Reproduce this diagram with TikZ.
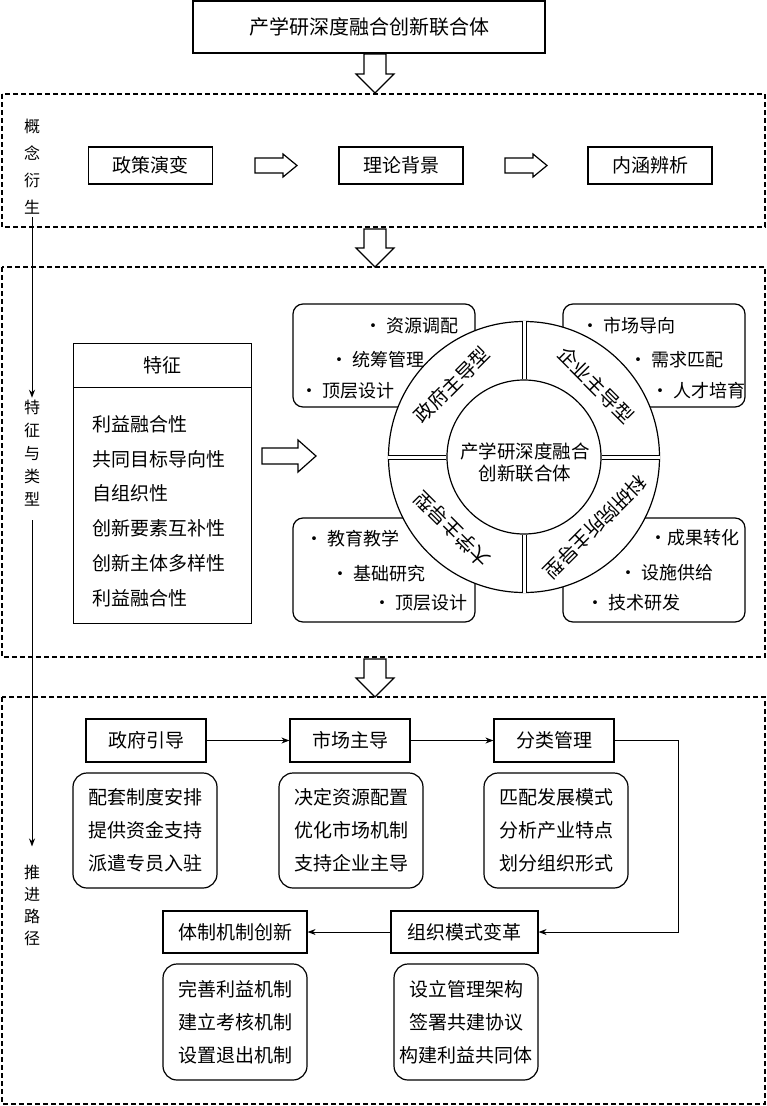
\documentclass[tikz,border=0pt]{standalone}
\usepackage{fontspec}
\setmainfont{Noto Sans CJK SC}
\usetikzlibrary{arrows.meta}
\newcommand\fsz[2]{\fontsize{#1}{#2}\selectfont}
\begin{document}
\begin{tikzpicture}[x=1pt,y=-1pt,
  sqbox/.style={draw, line width=1.2pt, inner sep=0pt, font=\fsz{19}{22}},
  rbox/.style={draw, line width=1.2pt, rounded corners=14pt, inner sep=0pt, align=center, font=\fsz{19}{33}},
  bubble/.style={draw, line width=1.2pt, rounded corners=10pt, inner sep=0pt},
  dashbox/.style={draw, dash pattern=on 5pt off 3pt, line width=1.3pt},
  hollow/.style={draw, line width=1.2pt, fill=white, line join=miter},
  flow/.style={line width=1pt, -{Stealth[length=8pt,width=6pt]}},
  vlabel/.style={align=center, inner sep=2pt},
  item/.style={anchor=west, inner sep=0pt, font=\fsz{18}{20}},
  ring/.style={inner sep=0pt, font=\fsz{19.5}{20}},
  divider/.style={double, double distance=3pt, line width=1pt}
]
\useasboundingbox (0,0) rectangle (767,1106);
\fill[white] (0,0) rectangle (767,1106);

% ---------- top ----------
\node[sqbox, minimum width=352, minimum height=52, font=\fsz{20}{22}] (top) at (369,27) {产学研深度融合创新联合体};
\draw[hollow] (364,54) -- (364,74) -- (356,74) -- (375,93) -- (394,74) -- (386,74) -- (386,54) -- cycle;

% ---------- section 1 ----------
\draw[dashbox] (2,94) rectangle (765,227);
\node[vlabel, font=\fsz{16}{27}] (l1) at (32,167) {概\\念\\衍\\生};
\node[sqbox, minimum width=124, minimum height=37] (p1) at (150.5,165.5) {政策演变};
\node[sqbox, minimum width=124, minimum height=37] (p2) at (401,165.5) {理论背景};
\node[sqbox, minimum width=124, minimum height=37] (p3) at (650,165.5) {内涵辨析};
\draw[hollow] (255,158) -- (283,158) -- (283,154) -- (297,165.5) -- (283,177) -- (283,173) -- (255,173) -- cycle;
\draw[hollow] (505,158) -- (533,158) -- (533,154) -- (547,165.5) -- (533,177) -- (533,173) -- (505,173) -- cycle;
\draw[hollow] (364,229) -- (364,248) -- (356,248) -- (375,267) -- (394,248) -- (386,248) -- (386,229) -- cycle;

% ---------- section 2 ----------
\draw[dashbox] (2,267) rectangle (765,657);
\node[vlabel, font=\fsz{16}{23}] (l2) at (32,453) {特\\征\\与\\类\\型};

\node[sqbox, minimum width=178, minimum height=44, anchor=north west] (fh) at (73,343) {特征};
\node[draw, line width=1.2pt, minimum width=178, minimum height=236, anchor=north west, inner sep=0pt] (fb) at (73,387) {};
\node[anchor=west, align=left, inner sep=0pt, font=\fsz{19}{34.8}] (ft) at (92,511) {利益融合性\\共同目标导向性\\自组织性\\创新要素互补性\\创新主体多样性\\利益融合性};
\draw[hollow] (262,448) -- (298,448) -- (298,440) -- (316,456) -- (298,472) -- (298,464) -- (262,464) -- cycle;

% bubbles behind circle
\node[bubble, minimum width=182, minimum height=103] (b1) at (384,355.5) {};
\node[bubble, minimum width=182, minimum height=103] (b2) at (654,355.5) {};
\node[bubble, minimum width=182, minimum height=104] (b3) at (384,570) {};
\node[bubble, minimum width=182, minimum height=104] (b4) at (654,570) {};

\node[item] (i11) at (364,326) {·\ 资源调配};
\node[item] (i12) at (330,360) {·\ 统筹管理};
\node[item] (i13) at (300,391) {·\ 顶层设计};
\node[item] (i21) at (581,326) {·\ 市场导向};
\node[item] (i22) at (629,360) {·\ 需求匹配};
\node[item] (i23) at (651,391) {·\ 人才培育};
\node[item] (i31) at (305,539) {·\ 教育教学};
\node[item] (i32) at (331,574) {·\ 基础研究};
\node[item] (i33) at (373,603) {·\ 顶层设计};
\node[item] (i41) at (649,538) {·成果转化};
\node[item] (i42) at (619,573) {·\ 设施供给};
\node[item] (i43) at (586,603) {·\ 技术研发};

% circle
\node[circle, draw, fill=white, line width=1.2pt, minimum size=271, inner sep=0pt] (outer) at (524,457) {};
\node[circle, draw, fill=white, line width=1.2pt, minimum size=154, inner sep=0pt] (inner) at (524,457) {};
\node[align=center, inner sep=0pt, font=\fsz{18.5}{22}] (ctext) at (525,462) {产学研深度融合\\创新联合体};
\draw[divider] (outer.north) -- (inner.north);
\draw[divider] (outer.south) -- (inner.south);
\draw[divider] (outer.west) -- (inner.west);
\draw[divider] (outer.east) -- (inner.east);
\node[ring, rotate=45] (t1) at (452,385) {政府主导型};
\node[ring, rotate=-45] (t2) at (596,385) {企业主导型};
\node[ring, rotate=135] (t3) at (452,529) {大学主导型};
\node[ring, rotate=-135] (t4) at (595,527) {科研院所主导型};

\draw[hollow] (364,659) -- (364,678) -- (356,678) -- (375,697) -- (394,678) -- (386,678) -- (386,659) -- cycle;

% ---------- section 3 ----------
\draw[dashbox] (2,697) rectangle (765,1104);
\node[vlabel, font=\fsz{16}{22}] (l3) at (32,905) {推\\进\\路\\径};

\node[sqbox, minimum width=120, minimum height=43] (g1) at (146,740.5) {政府引导};
\node[sqbox, minimum width=120, minimum height=43] (g2) at (350,740.5) {市场主导};
\node[sqbox, minimum width=120, minimum height=43] (g3) at (554,740.5) {分类管理};
\node[rbox, minimum width=144, minimum height=115] (r1) at (145,830.5) {配套制度安排\\提供资金支持\\派遣专员入驻};
\node[rbox, minimum width=144, minimum height=115] (r2) at (351,830.5) {决定资源配置\\优化市场机制\\支持企业主导};
\node[rbox, minimum width=144, minimum height=115] (r3) at (556,830.5) {匹配发展模式\\分析产业特点\\划分组织形式};

\node[sqbox, minimum width=147, minimum height=42] (z1) at (464.5,932) {组织模式变革};
\node[sqbox, minimum width=144, minimum height=42] (z2) at (235,932) {体制机制创新};
\node[rbox, minimum width=144, minimum height=116] (r4) at (235,1022) {完善利益机制\\建立考核机制\\设置退出机制};
\node[rbox, minimum width=144, minimum height=116] (r5) at (466,1022) {设立管理架构\\签署共建协议\\构建利益共同体};

\draw[flow] (g1.east) -- (g2.west);
\draw[flow] (g2.east) -- (g3.west);
\coordinate (turn) at (678,740.5);
\draw[flow] (g3.east) -- (turn) |- (z1.east);
\draw[flow] (z1.west) -- (z2.east);

% left timeline
\draw[flow] (l1.south) -- (l2.north);
\draw[flow, shorten <=12pt, shorten >=16pt] (l2.south) -- (l3.north);
\end{tikzpicture}
\end{document}
